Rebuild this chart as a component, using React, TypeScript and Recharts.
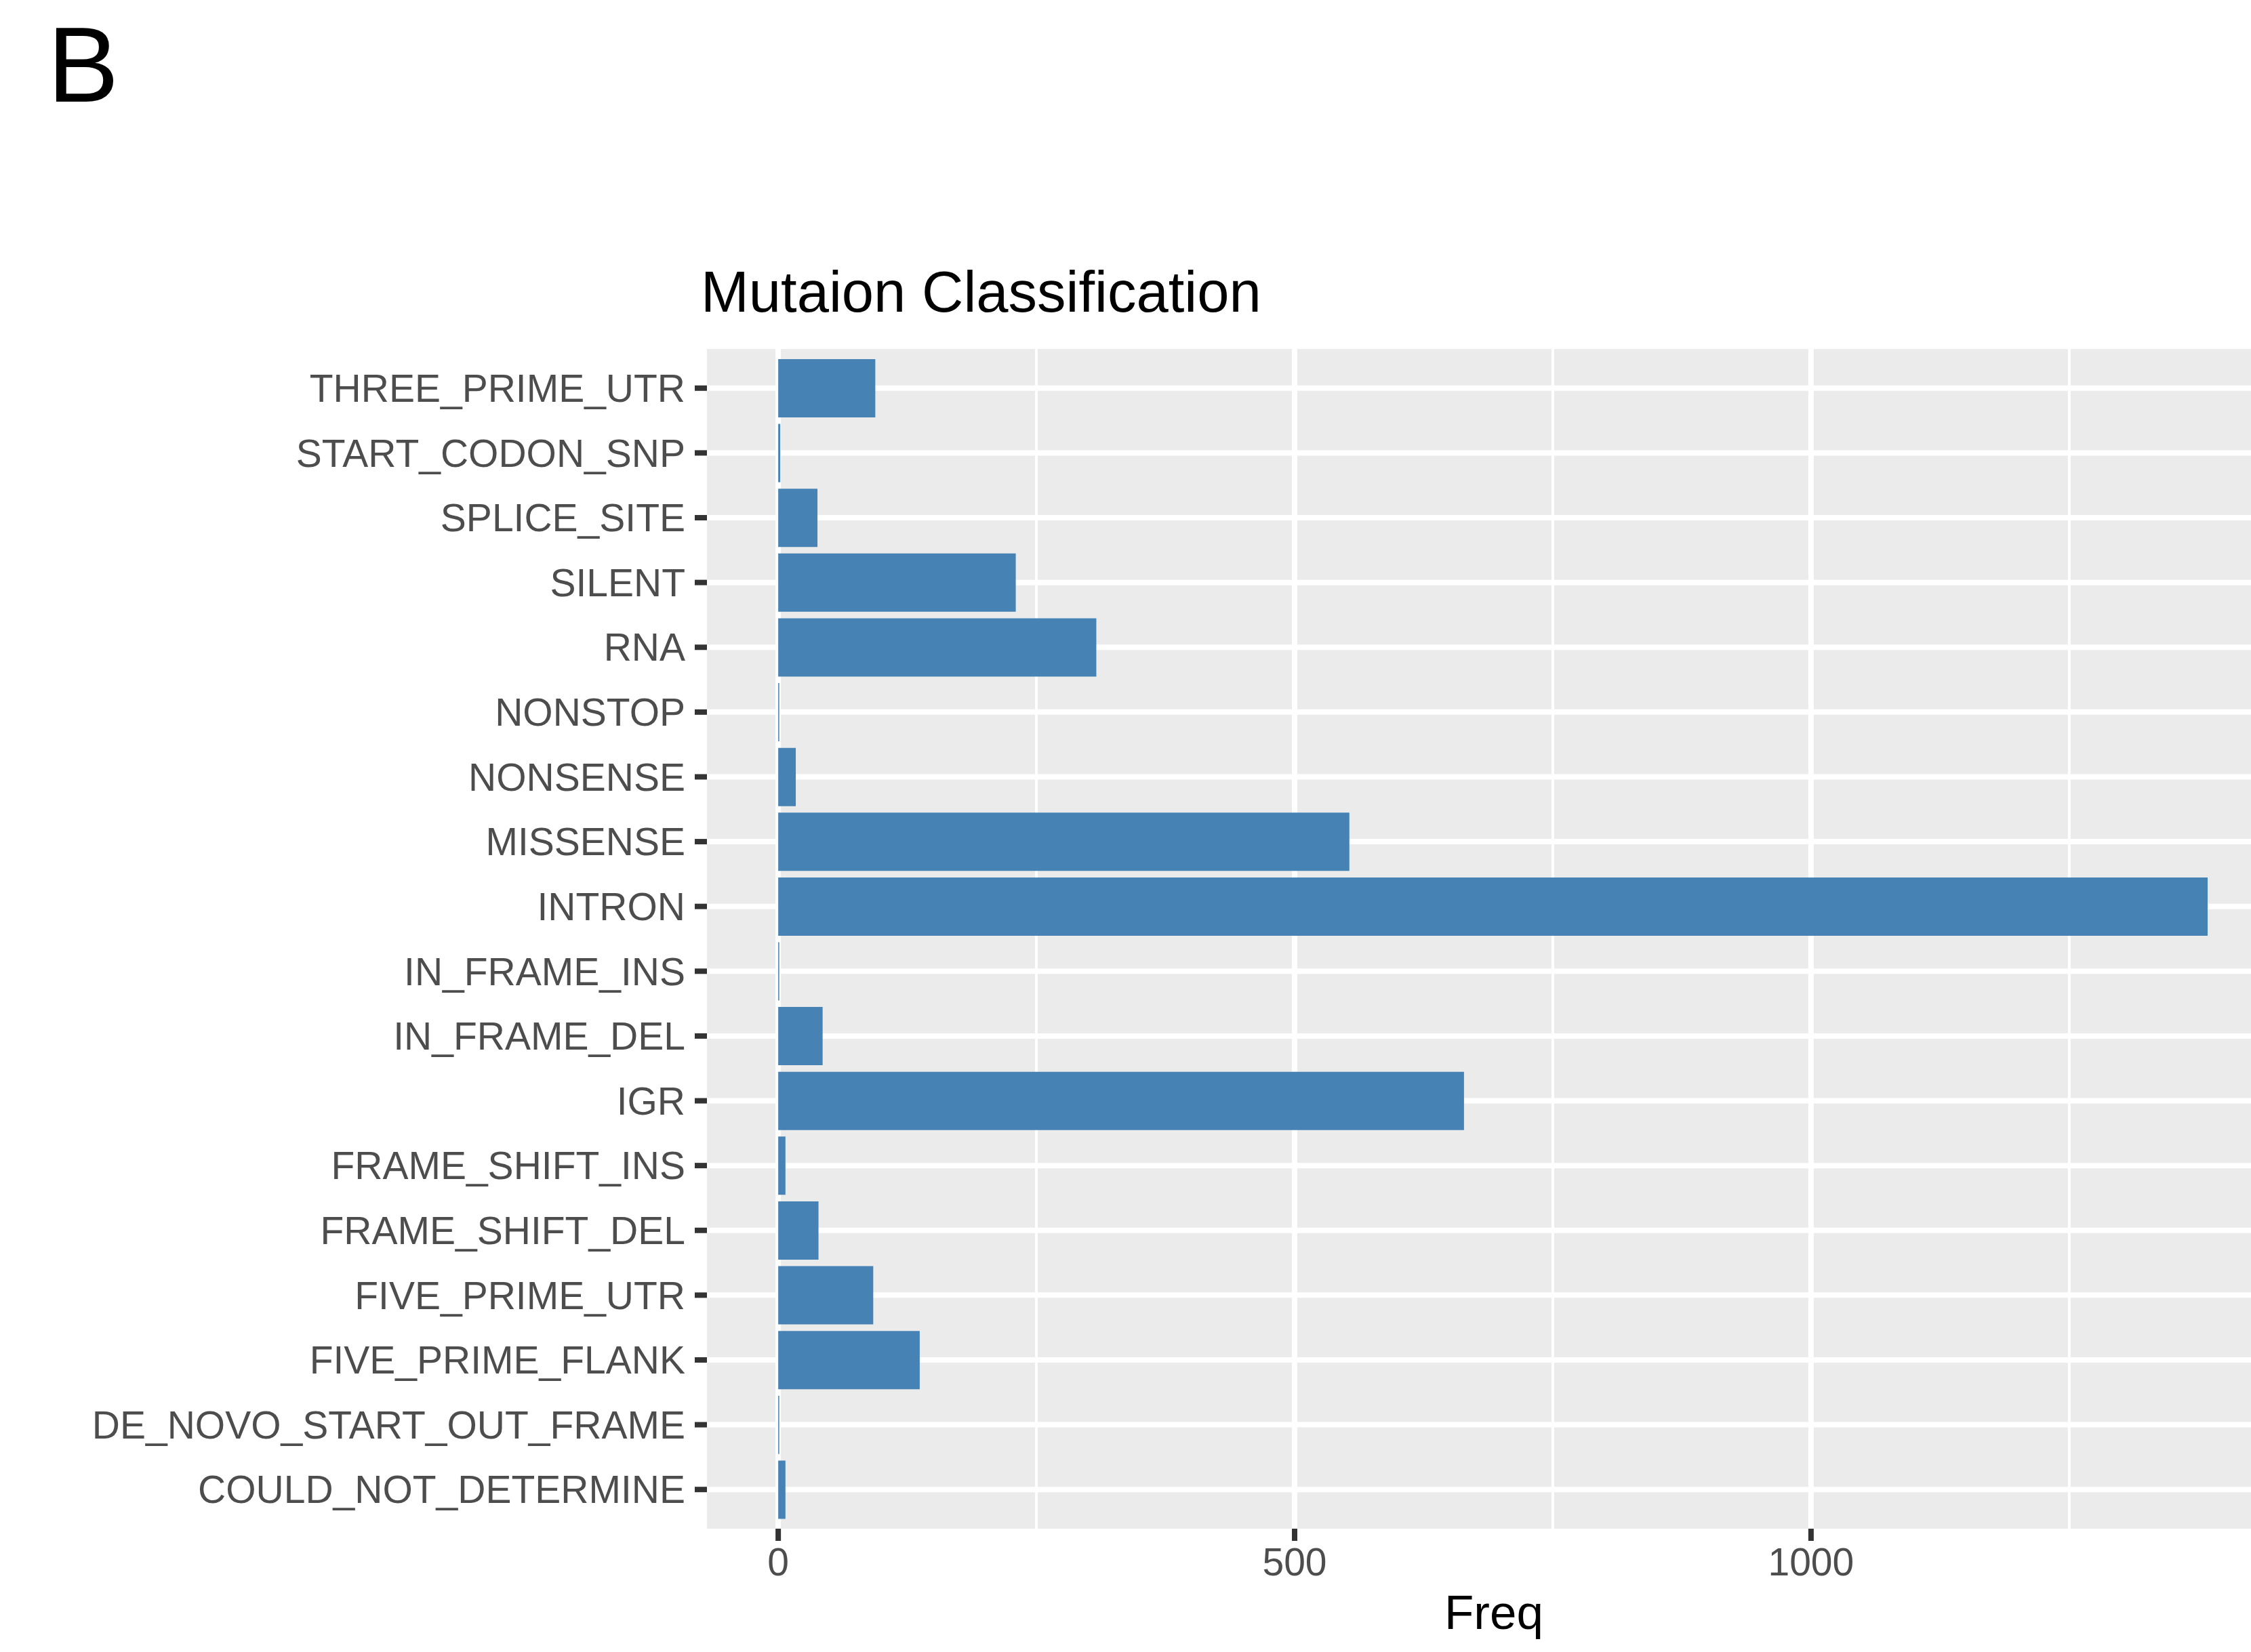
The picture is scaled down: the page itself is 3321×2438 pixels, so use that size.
import { BarChart, Bar, XAxis, YAxis, CartesianGrid } from "recharts"

const categories = [
  "THREE_PRIME_UTR",
  "START_CODON_SNP",
  "SPLICE_SITE",
  "SILENT",
  "RNA",
  "NONSTOP",
  "NONSENSE",
  "MISSENSE",
  "INTRON",
  "IN_FRAME_INS",
  "IN_FRAME_DEL",
  "IGR",
  "FRAME_SHIFT_INS",
  "FRAME_SHIFT_DEL",
  "FIVE_PRIME_UTR",
  "FIVE_PRIME_FLANK",
  "DE_NOVO_START_OUT_FRAME",
  "COULD_NOT_DETERMINE",
]

const freq = [94, 2, 38, 230, 308, 1, 17, 553, 1384, 1, 43, 664, 7, 39, 92, 137, 1, 7]

const xDomain: [number, number] = [-69, 1426]
const xTicks = [0, 500, 1000]
const xMinorTicks = [250, 750, 1250]

const W = 3321
const H = 2438
const FONT = '"Liberation Sans", Arial, Helvetica, sans-serif'

const data = categories.map((name, i) => ({ name, Freq: freq[i] }))

// minor x grid lines, drawn as a grid layer so they stay under the bars
const minorLines = (props: any) => {
  const scale = props?.xAxis?.scale
  if (typeof scale === "function") return xMinorTicks.map((t) => scale(t))
  const off = props?.offset
  if (!off) return []
  const [lo, hi] = xDomain
  return xMinorTicks.map((t) => off.left + ((t - lo) / (hi - lo)) * off.width)
}

export default function App() {
  return (
    <div
      style={{
        position: "absolute",
        left: 0,
        top: 0,
        width: W,
        height: H,
        overflow: "hidden",
        background: "#FFFFFF",
      }}
    >
      <BarChart
        width={W}
        height={H}
        layout="vertical"
        data={data}
        margin={{ top: 515, right: 0, left: 0, bottom: 0 }}
      >
        <CartesianGrid
          fill="#EBEBEB"
          stroke="#FFFFFF"
          strokeWidth={4}
          strokeDasharray=""
          horizontal={false}
          verticalCoordinatesGenerator={minorLines}
        />
        <CartesianGrid
          stroke="#FFFFFF"
          strokeWidth={8}
          strokeDasharray=""
          syncWithTicks
        />
        <XAxis
          type="number"
          dataKey="Freq"
          domain={xDomain}
          allowDataOverflow
          ticks={xTicks}
          interval={0}
          height={182}
          axisLine={false}
          tickSize={18}
          tickMargin={11}
          tickLine={{ stroke: "#333333", strokeWidth: 8 }}
          tick={{ fontSize: 57, fill: "#4D4D4D", fontFamily: FONT }}
        />
        <YAxis
          type="category"
          dataKey="name"
          width={1043}
          interval={0}
          padding={{ top: 10, bottom: 10 }}
          axisLine={false}
          tickSize={18}
          tickMargin={14}
          tickLine={{ stroke: "#333333", strokeWidth: 8 }}
          tick={{ fontSize: 57, fill: "#4D4D4D", fontFamily: FONT }}
        />
        <Bar dataKey="Freq" fill="#4682B4" barSize={86} isAnimationActive={false} />
      </BarChart>
      <svg
        width={W}
        height={H}
        style={{ position: "absolute", left: 0, top: 0, pointerEvents: "none" }}
      >
        <text x={70} y={150} fontSize={158} fontFamily={FONT} fill="#000000">
          B
        </text>
        <text x={1034} y={460} fontSize={85} fontFamily={FONT} fill="#000000">
          Mutaion Classification
        </text>
        <text
          x={2204}
          y={2404}
          fontSize={71}
          fontFamily={FONT}
          fill="#000000"
          textAnchor="middle"
        >
          Freq
        </text>
      </svg>
    </div>
  )
}
